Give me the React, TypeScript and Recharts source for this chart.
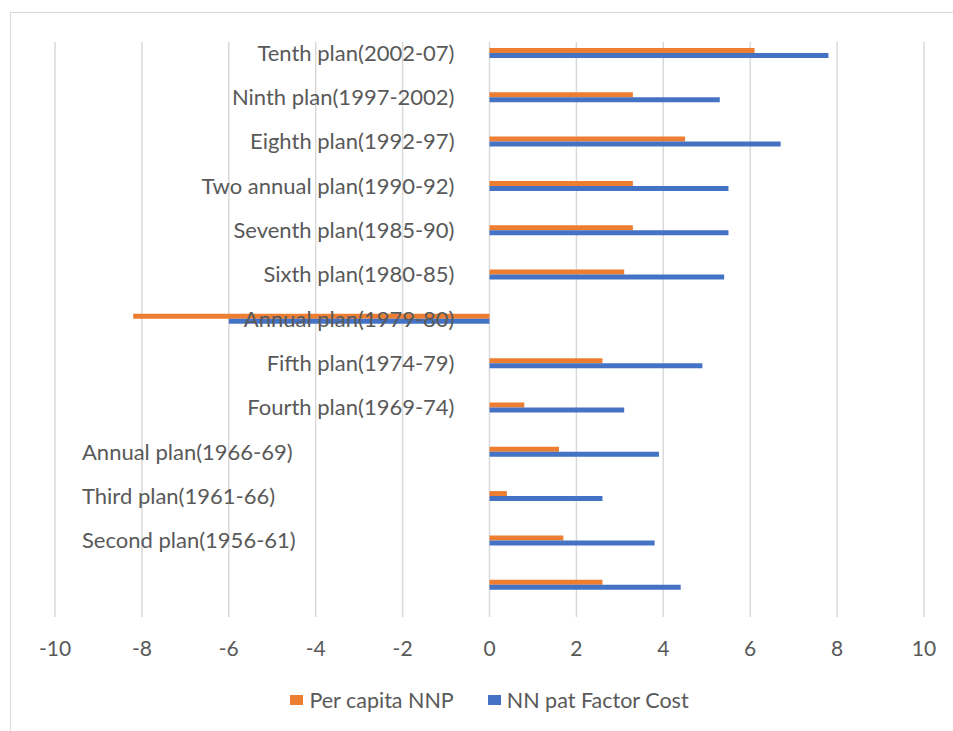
import React from 'react';
import { BarChart, Bar, XAxis, YAxis, CartesianGrid } from 'recharts';

const categories = [
  'Tenth plan(2002-07)',
  'Ninth plan(1997-2002)',
  'Eighth plan(1992-97)',
  'Two annual plan(1990-92)',
  'Seventh plan(1985-90)',
  'Sixth plan(1980-85)',
  'Annual plan(1979-80)',
  'Fifth plan(1974-79)',
  'Fourth plan(1969-74)',
  'Annual plan(1966-69)',
  'Third plan(1961-66)',
  'Second plan(1956-61)',
  '',
];
const perCapitaNNP = [6.1, 3.3, 4.5, 3.3, 3.3, 3.1, -8.2, 2.6, 0.8, 1.6, 0.4, 1.7, 2.6];
const nnpFactorCost = [7.8, 5.3, 6.7, 5.5, 5.5, 5.4, -6.0, 4.9, 3.1, 3.9, 2.6, 3.8, 4.4];
const xTicks = [-10, -8, -6, -4, -2, 0, 2, 4, 6, 8, 10];
const seriesNames = ['Per capita NNP', 'NN pat Factor Cost'];
const seriesColors = ['#ED7D31', '#4472C4'];

const data = categories.map((c, i) => ({
  name: c,
  perCapita: perCapitaNNP[i],
  factorCost: nnpFactorCost[i],
}));

// Page-level coordinates (container fixed at page origin)
const W = 953;
const H = 731;
const Y_AXIS_W = 55;
const MARGIN = { top: 42, right: 29, left: 0, bottom: 74 };
const XAXIS_H = 40;
const PLOT_LEFT = MARGIN.left + Y_AXIS_W;
const PLOT_W = W - PLOT_LEFT - MARGIN.right;
const X_MIN = xTicks[0];
const X_MAX = xTicks[xTicks.length - 1];
const ZERO_X = PLOT_LEFT + (PLOT_W * (0 - X_MIN)) / (X_MAX - X_MIN);
const FONT = 'Lato, "Liberation Sans", Arial, sans-serif';
const TEXT = '#595959';

const CategoryTick = (props: any) => {
  const { y, payload, index } = props;
  const leftAligned = index >= 9;
  return (
    <text
      x={leftAligned ? 82 : ZERO_X - 35}
      y={y}
      dy="0.35em"
      textAnchor={leftAligned ? 'start' : 'end'}
      fill={TEXT}
      fontSize={22}
      fontFamily={FONT}
    >
      {payload.value}
    </text>
  );
};

const ValueTick = (props: any) => {
  const { x, y, payload } = props;
  return (
    <text x={x} y={y} dy="0.71em" textAnchor="middle" fill={TEXT} fontSize={21} fontFamily={FONT}>
      {payload.value}
    </text>
  );
};

export default function App() {
  return (
    <div
      style={{
        position: 'fixed',
        left: 0,
        top: 0,
        width: W,
        height: H,
        overflow: 'hidden',
        background: '#fff',
      }}
    >
      <div
        style={{
          position: 'absolute',
          left: 10,
          top: 12,
          width: W + 40,
          height: H + 40,
          borderTop: '1.5px solid #d9d9d9',
          borderLeft: '1.5px solid #d9d9d9',
        }}
      />
      <BarChart
        width={W}
        height={H}
        data={data}
        layout="vertical"
        margin={MARGIN}
        barGap={0}
        barSize={5}
        style={{ position: 'absolute', left: 0, top: 0 }}
      >
        <CartesianGrid horizontal={false} stroke="#d9d9d9" strokeWidth={1.5} />
        <XAxis
          type="number"
          domain={[X_MIN, X_MAX]}
          ticks={xTicks}
          axisLine={false}
          tickLine={false}
          tickSize={0}
          tickMargin={24}
          height={XAXIS_H}
          tick={ValueTick}
          interval={0}
        />
        <Bar dataKey="perCapita" name={seriesNames[0]} fill={seriesColors[0]} isAnimationActive={false} />
        <Bar dataKey="factorCost" name={seriesNames[1]} fill={seriesColors[1]} isAnimationActive={false} />
        <YAxis
          type="category"
          dataKey="name"
          width={Y_AXIS_W}
          axisLine={false}
          tickLine={false}
          tick={CategoryTick}
          interval={0}
          padding={{ top: -11, bottom: 10 }}
        />
      </BarChart>
      <div
        style={{
          position: 'absolute',
          left: PLOT_LEFT,
          width: PLOT_W,
          top: 687,
          display: 'flex',
          justifyContent: 'center',
          alignItems: 'center',
          fontFamily: FONT,
          fontSize: 21.5,
          color: TEXT,
          gap: 34,
        }}
      >
        {seriesNames.map((n, i) => (
          <div key={n} style={{ display: 'flex', alignItems: 'center' }}>
            <span style={{ display: 'inline-block', width: 13, height: 10, background: seriesColors[i], marginRight: 6 }} />
            <span>{n}</span>
          </div>
        ))}
      </div>
    </div>
  );
}
